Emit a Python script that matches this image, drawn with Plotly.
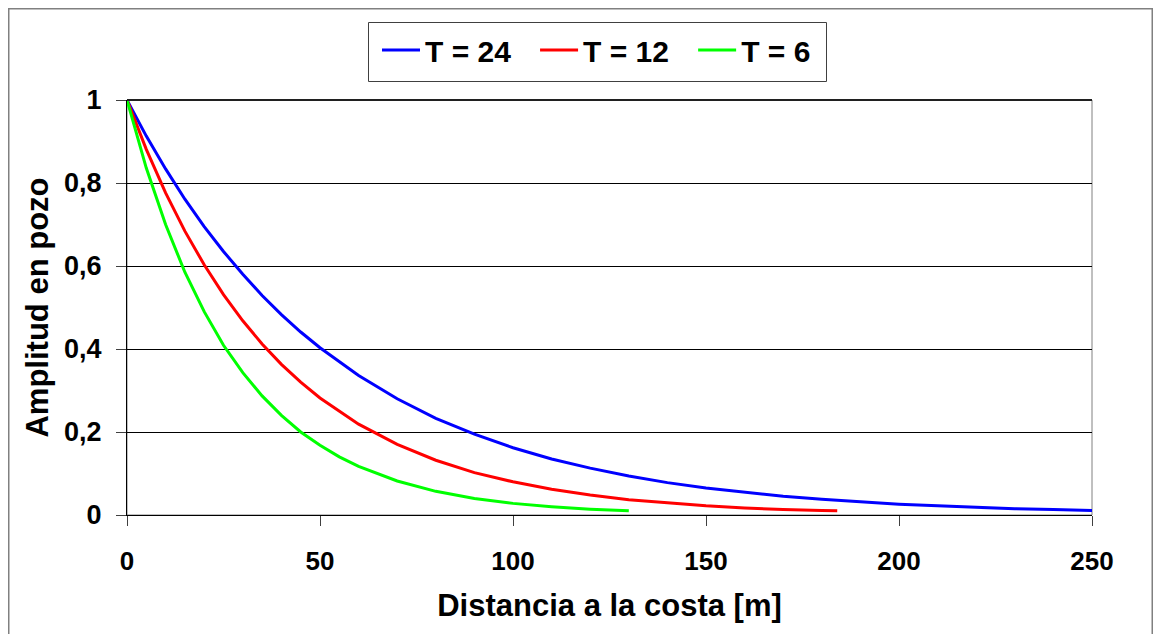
import plotly.graph_objects as go

# Distance to coast [m]
x_t24 = [0, 5, 10, 15, 20, 25, 30, 35, 40, 45, 50, 60, 70, 80, 90, 100, 110, 120, 130, 140,
         150, 160, 170, 180, 190, 200, 210, 220, 230, 240, 250]
y_t24 = [1.0, 0.913, 0.834, 0.761, 0.695, 0.635, 0.580, 0.529, 0.483, 0.441, 0.403, 0.336, 0.280,
         0.233, 0.195, 0.162, 0.135, 0.113, 0.094, 0.078, 0.065, 0.055, 0.045, 0.038, 0.032,
         0.026, 0.022, 0.018, 0.015, 0.013, 0.011]

x_t12 = [0, 5, 10, 15, 20, 25, 30, 35, 40, 45, 50, 60, 70, 80, 90, 100, 110, 120, 130, 140,
         150, 160, 170, 180, 184]
y_t12 = [1.0, 0.881, 0.776, 0.684, 0.603, 0.531, 0.468, 0.412, 0.363, 0.320, 0.282, 0.219, 0.170,
         0.132, 0.102, 0.080, 0.062, 0.048, 0.037, 0.029, 0.022, 0.017, 0.013, 0.011, 0.010]

x_t6 = [0, 5, 10, 15, 20, 25, 30, 35, 40, 45, 50, 55, 60, 70, 80, 90, 100, 110, 120, 130]
y_t6 = [1.0, 0.836, 0.700, 0.585, 0.490, 0.409, 0.343, 0.287, 0.240, 0.200, 0.168, 0.140, 0.117,
        0.082, 0.057, 0.040, 0.028, 0.020, 0.014, 0.010]

series_names = ["T = 24", "T = 12", "T = 6"]
series_colors = ["#0000FF", "#FF0000", "#00FF00"]

x_ticks = [0, 50, 100, 150, 200, 250]
y_ticks = [0, 0.2, 0.4, 0.6, 0.8, 1.0]
y_tick_labels = ["0", "0,2", "0,4", "0,6", "0,8", "1"]

FONT = "Arial, 'Liberation Sans', sans-serif"

# invisible trailing padding so the legend entries are spaced like the original
name_pad = ["\u00a0\u00a0\u200a", "\u00a0\u00a0\u200a", ""]

fig = go.Figure()
for xs, ys, name, col, pad in zip([x_t24, x_t12, x_t6], [y_t24, y_t12, y_t6],
                                  series_names, series_colors, name_pad):
    fig.add_trace(go.Scatter(x=xs, y=ys, mode="lines", name=name + pad,
                             line=dict(color=col, width=3)))

# figure-pixel layout (page has an 8px body margin)
W, H = 1145, 634
L, T = 119, 92
R = W - 1084
B = H - 507
pw, ph = W - L - R, H - T - B

def px_x(p):
    return (p - L) / pw

def px_y(p):
    return (H - B - p) / ph

fig.update_layout(
    width=W, height=H,
    margin=dict(l=L, r=R, t=T, b=B),
    paper_bgcolor="white", plot_bgcolor="white",
    font=dict(family=FONT, color="black", weight="bold"),
    showlegend=True,
    legend=dict(orientation="h", x=px_x(369), y=px_y(16), xanchor="left", yanchor="top",
                borderwidth=0, bgcolor="rgba(0,0,0,0)", itemwidth=38,
                font=dict(size=30, family=FONT, weight="bold")),
    xaxis=dict(range=[0, 250], tickvals=x_ticks, ticks="outside", ticklen=10,
               tickcolor="#404040", showline=True, linecolor="black", linewidth=1,
               showgrid=False, zeroline=False, ticklabelstandoff=13,
               tickfont=dict(size=26, family=FONT, weight="bold"),
               title=dict(text="Distancia a la costa [m]", standoff=19,
                          font=dict(size=31, family=FONT, weight="bold"))),
    yaxis=dict(range=[0, 1], tickvals=y_ticks, ticktext=y_tick_labels, ticks="outside",
               ticklen=10, tickcolor="#404040", showline=True, linecolor="black", linewidth=1,
               showgrid=True, gridcolor="black", gridwidth=1, zeroline=False,
               ticklabelstandoff=9,
               tickfont=dict(size=27, family=FONT, weight="bold"),
               title=dict(text="Amplitud en pozo", standoff=6,
                          font=dict(size=31, family=FONT, weight="bold"))),
    shapes=[
        dict(type="rect", xref="paper", yref="paper", x0=0, x1=1, y0=0, y1=1,
             line=dict(color="#808080", width=1), layer="below"),
        dict(type="line", xref="paper", yref="paper", x0=0, x1=1, y0=1, y1=1,
             line=dict(color="#202020", width=2)),
        # legend frame
        dict(type="rect", xref="paper", yref="paper",
             x0=px_x(360.5), x1=px_x(818.5), y0=px_y(73.5), y1=px_y(14.5),
             line=dict(color="#404040", width=1), fillcolor="white", layer="below"),
        # chart frame
        dict(type="rect", xref="paper", yref="paper",
             x0=px_x(0.75), x1=px_x(W - 0.75), y0=px_y(0.75), y1=px_y(H - 0.75),
             line=dict(color="#808080", width=1.5)),
    ],
)

fig.write_html("out.html")
